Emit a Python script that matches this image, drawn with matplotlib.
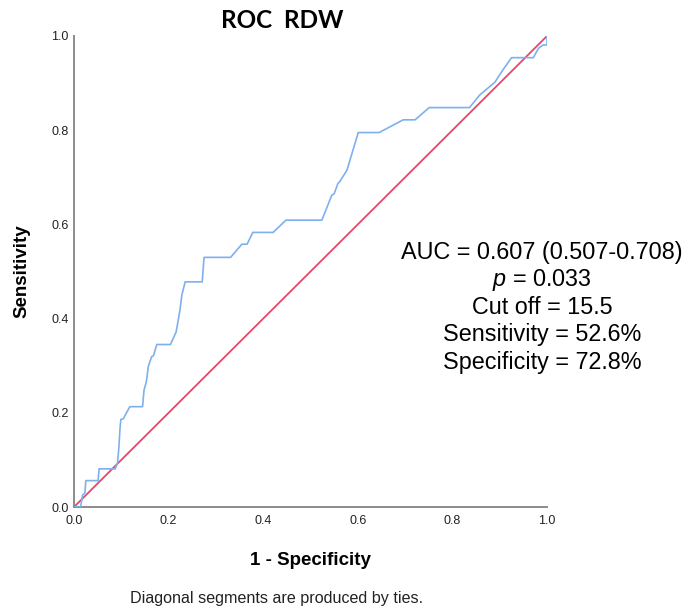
import matplotlib
matplotlib.use("Agg")
import matplotlib.pyplot as plt

# ROC curve points (1 - specificity, sensitivity)
fpr = [0.000, 0.014, 0.018, 0.023, 0.025, 0.051, 0.053, 0.087, 0.092, 0.095,
       0.097, 0.099, 0.104, 0.118, 0.145, 0.148, 0.153, 0.157, 0.164, 0.168,
       0.175, 0.204, 0.216, 0.224, 0.228, 0.235, 0.271, 0.275, 0.331, 0.355,
       0.366, 0.378, 0.421, 0.448, 0.524, 0.545, 0.550, 0.558, 0.562, 0.577,
       0.601, 0.645, 0.696, 0.721, 0.751, 0.836, 0.858, 0.890, 0.904, 0.925,
       0.971, 0.982, 0.992, 1.000, 1.000]
tpr = [0.000, 0.000, 0.025, 0.030, 0.056, 0.056, 0.081, 0.081, 0.093, 0.128,
       0.163, 0.186, 0.187, 0.213, 0.213, 0.248, 0.266, 0.298, 0.319, 0.321,
       0.345, 0.345, 0.372, 0.418, 0.450, 0.478, 0.478, 0.530, 0.530, 0.558,
       0.558, 0.583, 0.583, 0.609, 0.609, 0.662, 0.665, 0.687, 0.691, 0.715,
       0.795, 0.795, 0.822, 0.822, 0.848, 0.848, 0.875, 0.902, 0.924, 0.954,
       0.954, 0.974, 0.981, 0.981, 1.000]
ref_line = [0.0, 1.0]
ticks = [0.0, 0.2, 0.4, 0.6, 0.8, 1.0]
tick_labels = ["0.0", "0.2", "0.4", "0.6", "0.8", "1.0"]

title = "ROC  RDW"
stats_lines = ["AUC = 0.607 (0.507-0.708)", "$\\it{p}$ = 0.033", "Cut off = 15.5",
               "Sensitivity = 52.6%", "Specificity = 72.8%"]

plt.rcParams['font.family'] = ['Liberation Sans', 'DejaVu Sans']
plt.rcParams['mathtext.fontset'] = 'custom'
plt.rcParams['mathtext.it'] = 'Liberation Sans:italic'
plt.rcParams['mathtext.rm'] = 'Liberation Sans'

fig = plt.figure(figsize=(6.9, 6.1), dpi=100)
ax = fig.add_axes([74/690, 1-507/610, 473/690, 471/610])

ax.plot(ref_line, ref_line, color='#e8466c', lw=1.3, zorder=2)
ax.plot(fpr, tpr, color='#7fb0ee', lw=1.2, zorder=3)

ax.set_xlim(0, 1)
ax.set_ylim(0, 1)
ax.set_xticks(ticks)
ax.set_xticklabels(tick_labels)
ax.set_yticks(ticks)
ax.set_yticklabels(tick_labels)
ax.tick_params(axis='both', length=0, labelsize=9, colors='#222222')
ax.tick_params(axis='x', pad=6)
ax.tick_params(axis='y', pad=4)
for s in ['top', 'right']:
    ax.spines[s].set_visible(False)
for s in ['left', 'bottom']:
    ax.spines[s].set_color('#8c8c8c')
    ax.spines[s].set_linewidth(1.4)

ax.set_xlabel("1 - Specificity", fontsize=13.5, fontweight='bold', labelpad=18)
fig.text(22/690, 1-271/610, "Sensitivity", fontsize=13.5, fontweight='bold',
         rotation=90, ha='center', va='center')

fig.text(282/690, 1-21/610, title, fontsize=17.5, fontweight='bold',
         family=['Lato', 'DejaVu Sans'], ha='center', va='center')

for i, line in enumerate(stats_lines):
    fig.text(542/690, 1-(252 + i*27.5)/610, line, fontsize=16.8,
             ha='center', va='center', color='black')

fig.text(277/690, 1-598/610, "Diagonal segments are produced by ties.",
         fontsize=11.6, ha='center', va='center', color='#222222')

fig.savefig("out.png", dpi=100)
